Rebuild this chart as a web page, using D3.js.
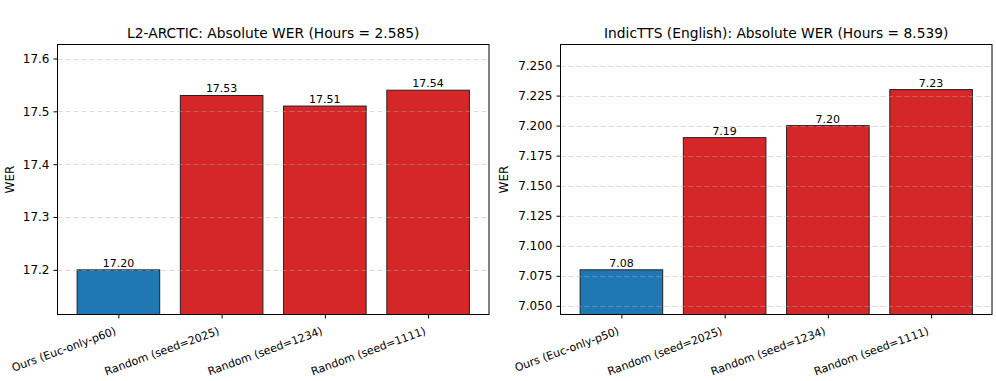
<!DOCTYPE html>
<html><head><meta charset="utf-8">
<script src="https://cdn.jsdelivr.net/npm/d3@7"></script>
<style>body{margin:0;background:#fff}svg{display:block}text{font-family:"DejaVu Sans",sans-serif;fill:#000}</style>
</head><body>
<svg id="c" width="996" height="381"></svg>
<script>
const categoriesL = ["Ours (Euc-only-p60)", "Random (seed=2025)", "Random (seed=1234)", "Random (seed=1111)"];
const valuesL = [17.20, 17.53, 17.51, 17.54];
const ticksL = [17.2, 17.3, 17.4, 17.5, 17.6];
const titleL = "L2-ARCTIC: Absolute WER (Hours = 2.585)";

const categoriesR = ["Ours (Euc-only-p50)", "Random (seed=2025)", "Random (seed=1234)", "Random (seed=1111)"];
const valuesR = [7.08, 7.19, 7.20, 7.23];
const ticksR = [7.050, 7.075, 7.100, 7.125, 7.150, 7.175, 7.200, 7.225, 7.250];
const titleR = "IndicTTS (English): Absolute WER (Hours = 8.539)";

const barColors = ["#1f77b4", "#d62728", "#d62728", "#d62728"];

const svg = d3.select("#c");

function panel(opt) {
  const {x0, x1, y0, y1, cats, vals, ticks, fmt, title, ydom, labelX} = opt;
  const x = d3.scaleLinear().domain([-0.59, 3.59]).range([x0, x1]);
  const y = d3.scaleLinear().domain(ydom).range([y1, y0]);
  const g = svg.append("g");
  const bw = x(0.8) - x(0);
  // bars
  g.selectAll("rect.bar").data(vals).join("rect")
    .attr("x", (d, i) => x(i) - bw / 2)
    .attr("width", bw)
    .attr("y", d => y(d))
    .attr("height", d => y1 - y(d))
    .attr("fill", (d, i) => barColors[i])
    .attr("stroke", "#222").attr("stroke-width", 1);
  // grid
  g.selectAll("line.grid").data(ticks).join("line")
    .attr("x1", x0).attr("x2", x1)
    .attr("y1", d => Math.round(y(d)) + 0.5).attr("y2", d => Math.round(y(d)) + 0.5)
    .attr("stroke", "#b0b0b0").attr("stroke-opacity", 0.45)
    .attr("stroke-dasharray", "5,3").attr("stroke-width", 1);
  // value labels
  g.selectAll("text.val").data(vals).join("text")
    .attr("x", (d, i) => x(i)).attr("y", d => y(d) - 3)
    .attr("text-anchor", "middle").attr("font-size", 11)
    .text(d => d3.format(".2f")(d));
  // y axis
  const ya = g.append("g").attr("transform", `translate(${x0},0)`)
    .call(d3.axisLeft(y).tickValues(ticks).tickFormat(d3.format(fmt)).tickSize(4).tickPadding(4));
  ya.select(".domain").remove();
  ya.selectAll("text").attr("font-size", 12).attr("font-family", "DejaVu Sans");
  ya.selectAll("line").attr("stroke", "#000");
  // x axis
  const xa = g.append("g").attr("transform", `translate(0,${y1})`)
    .call(d3.axisBottom(x).tickValues([0, 1, 2, 3]).tickFormat(i => cats[i]).tickSize(4));
  xa.select(".domain").remove();
  xa.selectAll("line").attr("stroke", "#000");
  xa.selectAll("text").attr("font-size", 11).attr("font-family", "DejaVu Sans")
    .attr("text-anchor", "end").attr("dy", null).attr("y", 0)
    .attr("transform", "translate(-2,19.5) rotate(-20)");
  // frame
  g.append("rect").attr("x", x0).attr("y", y0).attr("width", x1 - x0).attr("height", y1 - y0)
    .attr("fill", "none").attr("stroke", "#000").attr("stroke-width", 1);
  // title
  g.append("text").attr("x", (x0 + x1) / 2).attr("y", y0 - 7)
    .attr("text-anchor", "middle").attr("font-size", 13.8).text(title);
  // y label
  g.append("text").attr("transform", `translate(${labelX},${(y0 + y1) / 2}) rotate(-90)`)
    .attr("text-anchor", "middle").attr("font-size", 12).text("WER");
}

panel({x0: 57.5, x1: 489, y0: 44.5, y1: 314.5, cats: categoriesL, vals: valuesL, ticks: ticksL,
  fmt: ".1f", title: titleL, ydom: [17.1155, 17.6265], labelX: 14});
panel({x0: 560.5, x1: 992, y0: 44.5, y1: 314.5, cats: categoriesR, vals: valuesR, ticks: ticksR,
  fmt: ".3f", title: titleR, ydom: [7.0428, 7.2675], labelX: 508});
</script>
</body></html>
